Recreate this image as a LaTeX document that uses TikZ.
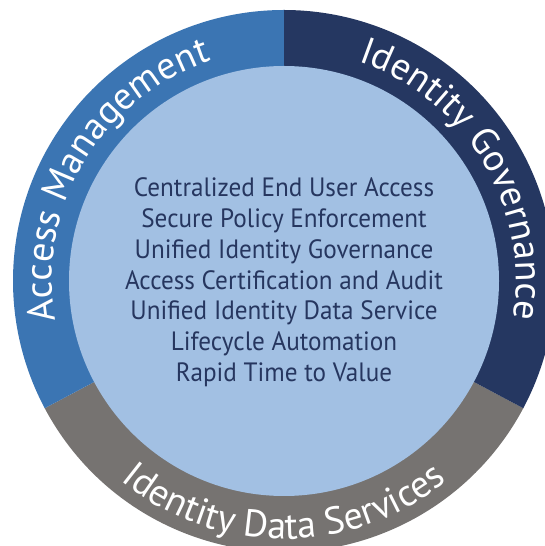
\documentclass[tikz,border=0pt]{standalone}
\usepackage{fontspec}
\setmainfont{PT Sans}
\usetikzlibrary{decorations.text}
\definecolor{amblue}{HTML}{3B75B3}
\definecolor{navy}{HTML}{253761}
\definecolor{ringgray}{HTML}{767371}
\definecolor{innerblue}{HTML}{A2C0E3}
\definecolor{textnavy}{HTML}{26365F}
\newcommand{\itemtext}[1]{\scalebox{0.95}[1]{#1}}
\tikzset{
  ringtext/.style={decorate, decoration={text along path, text align=center,
    text={|\fontsize{38}{40}\selectfont\color{white}|#1}}},
  itemline/.style={anchor=base, text=textnavy, font=\fontsize{26.5}{30}\selectfont, inner sep=0pt}
}
\begin{document}
\begin{tikzpicture}[x=1pt,y=1pt]
\useasboundingbox (0,0) rectangle (544,546);
\coordinate (c) at (284,265);
% ring segments
\fill[ringgray] (c) -- ++(208:271) arc[start angle=208,end angle=332,radius=271] -- cycle;
\fill[amblue] (c) -- ++(90:271) arc[start angle=90,end angle=208,radius=271] -- cycle;
\fill[navy] (c) -- ++(-28:271) arc[start angle=-28,end angle=90,radius=271] -- cycle;
\fill[innerblue] (c) circle[radius=215];
% ring labels
\path[ringtext={Access Management}] (c) ++(205:232) arc[start angle=205,end angle=93,radius=232];
\path[ringtext={Identity Governance}] (c) ++(87:232) arc[start angle=87,end angle=-25,radius=232];
\path[ringtext={Identity Data Services}] (c) ++(215:258) arc[start angle=215,end angle=325,radius=258];
% centre list
\node[itemline] (l1) at (284,349.3) {\itemtext{Centralized End User Access}};
\node[itemline] (l2) at (284,318.5) {\itemtext{Secure Policy Enforcement}};
\node[itemline] (l3) at (284,287.7) {\itemtext{Unified Identity Governance}};
\node[itemline] (l4) at (284,256.8) {\itemtext{Access Certification and Audit}};
\node[itemline] (l5) at (284,226.0) {\itemtext{Unified Identity Data Service}};
\node[itemline] (l6) at (284,195.2) {\itemtext{Lifecycle Automation}};
\node[itemline] (l7) at (284,164.3) {\itemtext{Rapid Time to Value}};
\end{tikzpicture}
\end{document}
